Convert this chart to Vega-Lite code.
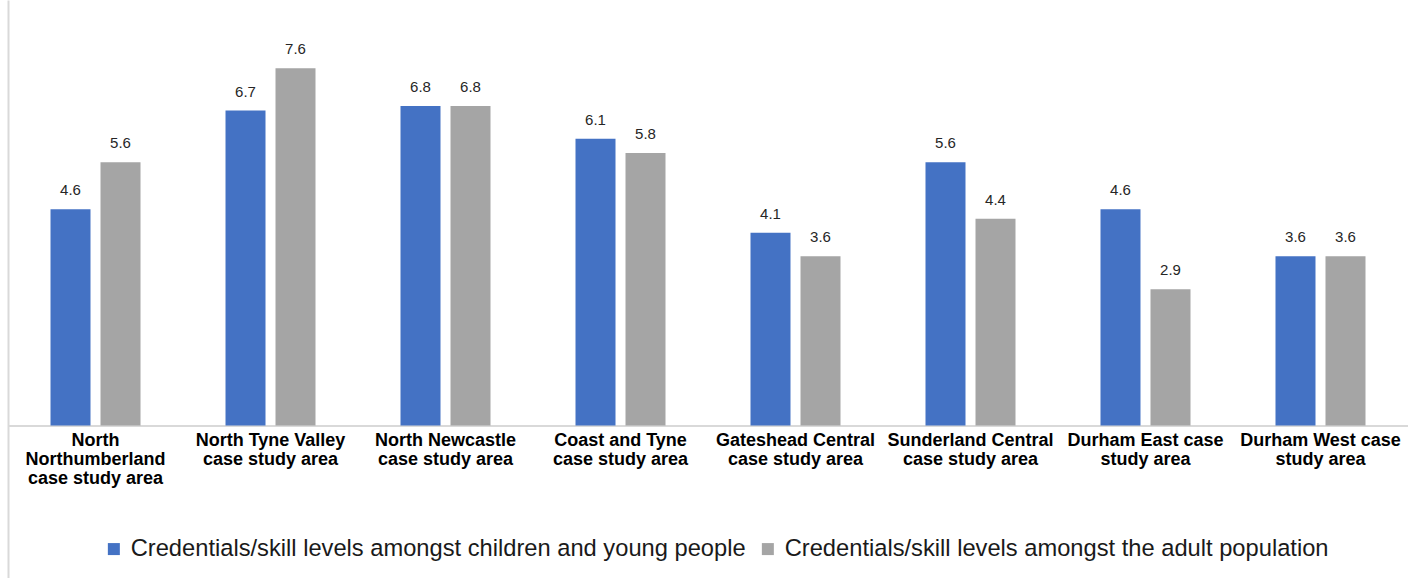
{
  "$schema": "https://vega.github.io/schema/vega-lite/v6.json",
  "width": 1400,
  "height": 578,
  "autosize": {"type": "none"},
  "padding": {"left": 8, "top": 0, "right": 0, "bottom": 0},
  "background": "white",
  "config": {
    "font": "Liberation Sans",
    "view": {"stroke": null},
    "axis": {"grid": false}
  },
  "data": {
    "values": [
      {"area": "North Northumberland case study area", "series": "Credentials/skill levels amongst children and young people", "value": 4.6},
      {"area": "North Northumberland case study area", "series": "Credentials/skill levels amongst the adult population", "value": 5.6},
      {"area": "North Tyne Valley case study area", "series": "Credentials/skill levels amongst children and young people", "value": 6.7},
      {"area": "North Tyne Valley case study area", "series": "Credentials/skill levels amongst the adult population", "value": 7.6},
      {"area": "North Newcastle case study area", "series": "Credentials/skill levels amongst children and young people", "value": 6.8},
      {"area": "North Newcastle case study area", "series": "Credentials/skill levels amongst the adult population", "value": 6.8},
      {"area": "Coast and Tyne case study area", "series": "Credentials/skill levels amongst children and young people", "value": 6.1},
      {"area": "Coast and Tyne case study area", "series": "Credentials/skill levels amongst the adult population", "value": 5.8},
      {"area": "Gateshead Central case study area", "series": "Credentials/skill levels amongst children and young people", "value": 4.1},
      {"area": "Gateshead Central case study area", "series": "Credentials/skill levels amongst the adult population", "value": 3.6},
      {"area": "Sunderland Central case study area", "series": "Credentials/skill levels amongst children and young people", "value": 5.6},
      {"area": "Sunderland Central case study area", "series": "Credentials/skill levels amongst the adult population", "value": 4.4},
      {"area": "Durham East case study area", "series": "Credentials/skill levels amongst children and young people", "value": 4.6},
      {"area": "Durham East case study area", "series": "Credentials/skill levels amongst the adult population", "value": 2.9},
      {"area": "Durham West case study area", "series": "Credentials/skill levels amongst children and young people", "value": 3.6},
      {"area": "Durham West case study area", "series": "Credentials/skill levels amongst the adult population", "value": 3.6}
    ]
  },
  "encoding": {
    "x": {
      "field": "area",
      "type": "nominal",
      "sort": null,
      "scale": {"paddingInner": 0.4857, "paddingOuter": 0.2429},
      "axis": {
        "title": null,
        "offset": -152.5,
        "domainColor": "#d9d9d9",
        "domainWidth": 2,
        "ticks": false,
        "labelAngle": 0,
        "labelFontSize": 18,
        "labelFontWeight": "bold",
        "labelColor": "#000000",
        "labelPadding": 6,
        "labelLineHeight": 19,
        "labelLimit": 400,
        "labelOverlap": false,
        "labelBound": false,
        "labelExpr": "datum.value == 'North Northumberland case study area' ? ['North', 'Northumberland', 'case study area'] : indexof(datum.value, 'Durham') == 0 ? [replace(datum.value, ' study area', ''), 'study area'] : [replace(datum.value, ' case study area', ''), 'case study area']"
      }
    },
    "xOffset": {
      "field": "series",
      "type": "nominal",
      "sort": null,
      "scale": {"paddingInner": 0.2, "paddingOuter": 0}
    },
    "y": {
      "field": "value",
      "type": "quantitative",
      "scale": {"domain": [-3.245, 9.053], "nice": false, "zero": false},
      "axis": {
        "title": null,
        "labels": false,
        "ticks": false,
        "grid": false,
        "domainColor": "#d9d9d9",
        "domainWidth": 2
      }
    }
  },
  "layer": [
    {
      "mark": {"type": "bar"},
      "encoding": {
        "y2": {"datum": 0},
        "color": {
          "field": "series",
          "type": "nominal",
          "sort": null,
          "scale": {
            "domain": ["Credentials/skill levels amongst children and young people", "Credentials/skill levels amongst the adult population"],
            "range": ["#4472C4", "#A5A5A5"]
          },
          "legend": {
            "title": null,
            "orient": "none",
            "direction": "horizontal",
            "legendX": 94,
            "legendY": 537,
            "padding": 0,
            "symbolType": "square",
            "symbolSize": 144,
            "symbolStrokeWidth": 0,
            "symbolOpacity": 1,
            "labelFontSize": 23.7,
            "labelColor": "#1a1a1a",
            "labelOffset": 5,
            "labelLimit": 1000,
            "columnPadding": 10
          }
        }
      }
    },
    {
      "mark": {"type": "text", "baseline": "alphabetic", "dy": -14, "fontSize": 15, "color": "#262626"},
      "encoding": {
        "text": {"field": "value", "type": "quantitative", "format": ".1f"}
      }
    }
  ]
}
